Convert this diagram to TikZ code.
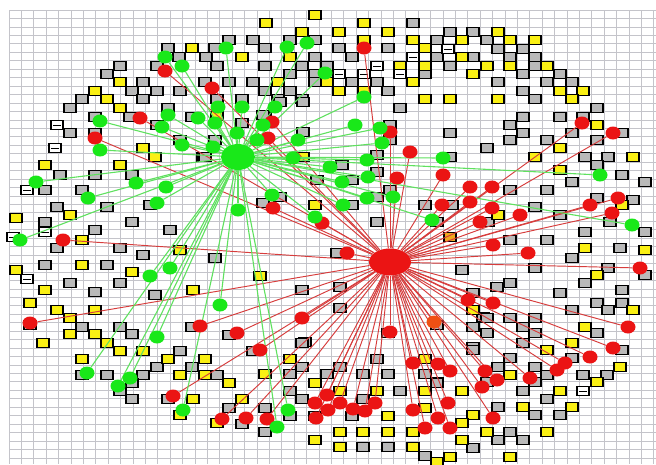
\documentclass[tikz,border=0pt]{standalone}
\usetikzlibrary{shapes.geometric}
\pgfdeclarelayer{bg}
\pgfdeclarelayer{edges}
\pgfsetlayers{bg,edges,main}
\definecolor{gridc}{RGB}{196,196,202}
\definecolor{boxgray}{RGB}{185,185,185}
\definecolor{boxyel}{RGB}{250,240,20}
\definecolor{boxorg}{RGB}{240,170,30}
\definecolor{dotgreen}{RGB}{25,232,25}
\definecolor{dotred}{RGB}{235,20,20}
\definecolor{dotorg}{RGB}{240,80,20}
\definecolor{linegreen}{RGB}{95,225,95}
\definecolor{linered}{RGB}{215,60,60}
\begin{document}
\begin{tikzpicture}[x=1pt,y=-1pt,
  gridline/.style={draw=gridc,line width=0.7pt},
  cellbox/.style={draw=black,line width=1.3pt},
  gbox/.style={cellbox,fill=boxgray},
  ybox/.style={cellbox,fill=boxyel},
  obox/.style={cellbox,fill=boxorg},
  wbox/.style={cellbox,fill=white},
  dotbase/.style={ellipse,inner sep=0pt,minimum width=15pt,minimum height=13pt,draw=none},
  gdot/.style={dotbase,fill=dotgreen},
  rdot/.style={dotbase,fill=dotred},
  odot/.style={dotbase,fill=dotorg},
  ghub/.style={ellipse,inner sep=0pt,minimum width=34pt,minimum height=26pt,fill=dotgreen},
  rhub/.style={ellipse,inner sep=0pt,minimum width=42pt,minimum height=27pt,fill=dotred},
  gline/.style={draw=linegreen,line width=1.1pt},
  rline/.style={draw=linered,line width=0.95pt}]
\useasboundingbox (0,0) rectangle (656,464);
\begin{pgfonlayer}{bg}
\fill[white] (0,0) rectangle (656,464);
\foreach \i in {0,...,52} \draw[gridline] ({9+12.4*\i},10) -- ({9+12.4*\i},464);
\foreach \j in {0,...,53} \draw[gridline] (9,{10+8.45*\j}) -- (656,{10+8.45*\j});
% gray boxes
\foreach \x/\y in {168/48,215/48,179/57,206/57,120/66,157/66,217/66,107/74,143/82,132/91,157/91,180/91,82/99,143/99,217/99,70/108,168/108,95/117,130/117,192/117,70/133,95/133,157/125,180/140,203/157,
413/23,229/40,253/40,290/40,315/40,265/48,339/48,388/48,315/57,352/57,265/66,302/66,327/66,290/74,315/74,425/74,205/82,229/82,253/82,315/82,352/82,377/82,265/91,290/91,388/91,242/99,278/99,302/99,400/108,265/116,
450/32,473/32,437/40,487/40,498/49,523/49,437/57,473/57,510/57,535/57,450/66,535/66,523/74,560/74,498/82,547/82,572/82,523/91,535/99,597/108,523/117,560/117,583/117,510/125,450/133,523/133,572/133,622/133,510/140,547/140,597/140,487/148,450/157,585/157,608/157,
280/102,303/102,263/115,242/123,303/132,215/140,205/157,342/165,317/180,352/180,280/197,263/203,352/205,390/125,390/140,377/155,377/172,390/190,377/197,425/205,452/205,377/222,437/222,488/222,337/253,462/270,340/287,497/287,473/293,340/308,483/317,437/325,388/333,305/342,473/347,
597/303,622/303,572/310,608/310,487/318,510/318,535/318,473/327,523/327,597/333,487/333,535/333,523/343,473/350,622/350,510/358,572/358,498/367,535/367,547/375,583/375,607/375,437/382,487/382,535/382,523/391,547/399,498/407,535/415,560/415,510/432,498/440,523/440,473/448,
30/325,82/327,120/327,192/327,132/334,180/351,157/367,192/367,82/375,107/375,143/375,217/375,132/383,120/391,132/399,168/399,
229/335,302/343,253/351,377/359,302/367,340/367,290/374,327/374,363/374,388/374,425/374,437/383,290/391,400/391,302/399,363/399,229/408,265/408,352/416,242/424,290/416,315/416,265/432,363/447,388/447,425/456,
60/175,95/175,132/175,45/190,82/190,150/205,57/207,107/207,45/222,132/222,95/230,170/230,57/248,120/248,45/265,107/265,143/255,70/283,120/283,95/292,155/295,
597/165,622/175,645/182,572/182,510/190,547/190,633/200,597/198,535/207,610/222,560/215,645/232,585/232,510/240,547/240,620/248,572/258,535/268,608/268,645/275,585/283,510/283,560/293,622/290,
215/258,302/290}
  \draw[gbox] (\x-6,\y-4.5) rectangle ++(12,9);
% yellow boxes
\foreach \x/\y in {192/48,120/82,95/91,107/99,120/108,143/148,155/157,
315/15,266/23,364/23,302/32,339/32,388/32,364/40,413/40,425/48,242/57,290/57,400/66,425/66,278/82,327/82,413/82,339/91,364/91,425/99,217/116,
498/32,462/40,510/40,535/40,462/57,487/66,510/66,547/66,473/74,560/91,583/91,450/99,498/99,572/99,597/125,560/148,535/157,633/157,
303/157,315/205,
473/310,585/327,572/343,547/350,620/367,510/375,597/382,462/391,560/391,523/407,572/407,473/415,462/423,487/432,547/432,462/440,450/457,510/457,437/462,633/310,
30/303,57/310,95/310,70/318,70/334,95/334,43/343,107/343,120/351,143/351,82/359,168/359,205/359,180/375,205/375,193/399,180/415,217/423,
290/359,425/359,265/374,229/383,315/383,340/391,377/391,425/391,242/399,425/408,388/416,340/432,363/432,388/432,413/432,315/440,340/447,413/447,
45/165,120/165,16/218,70/215,82/240,16/270,82/265,132/272,45/290,180/250,193/290,
560/170,622/205,498/215,585/248,645/250,597/275,260/276}
  \draw[ybox] (\x-6,\y-4.5) rectangle ++(12,9);
\foreach \x/\y in {450/237}
  \draw[obox] (\x-6,\y-4.5) rectangle ++(12,9);
% white boxes
\foreach \x/\y in {57/125,55/148,413/57,377/66,339/74,364/74,400/74,448/49,583/391,27/190,45/232,27/279,13/237}
  {\draw[wbox] (\x-6,\y-4.5) rectangle ++(12,9);
   \draw[black,line width=1pt] (\x-4,\y) -- (\x+4,\y);}
\end{pgfonlayer}
% hubs
\node[ghub] (G) at (238,157) {};
\node[rhub] (R) at (390,262) {};
% red dots and their connectors
\foreach \x/\y [count=\i] in {165/71,212/88,140/118,95/138,364/48,272/122,268/138,390/132,397/178,273/208,582/123,613/133,30/323,200/326,173/396,222/419,237/333,260/350,327/395,315/403,340/403,328/410,353/409,365/411,375/403,316/418,413/410,438/418,425/428,246/418,267/419,413/363,438/364,390/332,493/303,468/300,628/327,613/348,590/357,565/363,557/370,530/378,497/380,485/371,482/387,450/371,448/403,450/428,493/418,322/223,347/253,442/205,470/202,492/208,480/222,493/245,302/318,410/152,443/175,470/187,492/187,520/215,590/205,612/213,618/198,640/268,528/253,63/240}
  {\node[rdot] (r\i) at (\x,\y) {};
   \begin{pgfonlayer}{edges}\draw[rline] (R) -- (r\i);\end{pgfonlayer}}
\node[odot] (ro) at (434,322) {};
\begin{pgfonlayer}{edges}\draw[rline] (R) -- (ro);\end{pgfonlayer}
% green dots and their connectors
\foreach \x/\y [count=\i] in {165/57,182/66,226/48,287/47,307/43,325/73,364/97,100/121,168/115,198/118,218/107,242/107,275/107,162/127,215/123,263/125,237/133,257/140,298/140,355/125,380/128,382/143,182/145,213/147,100/150,293/158,330/167,367/160,342/182,368/177,367/198,393/197,272/195,238/210,315/217,343/205,432/220,443/158,600/175,632/225,36/182,20/240,136/183,166/187,157/203,88/198,150/276,170/268,220/305,157/337,130/378,118/386,87/373,183/410,288/410,277/427}
  {\node[gdot] (g\i) at (\x,\y) {};
   \begin{pgfonlayer}{edges}\draw[gline] (G) -- (g\i);\end{pgfonlayer}}
\end{tikzpicture}
\end{document}
